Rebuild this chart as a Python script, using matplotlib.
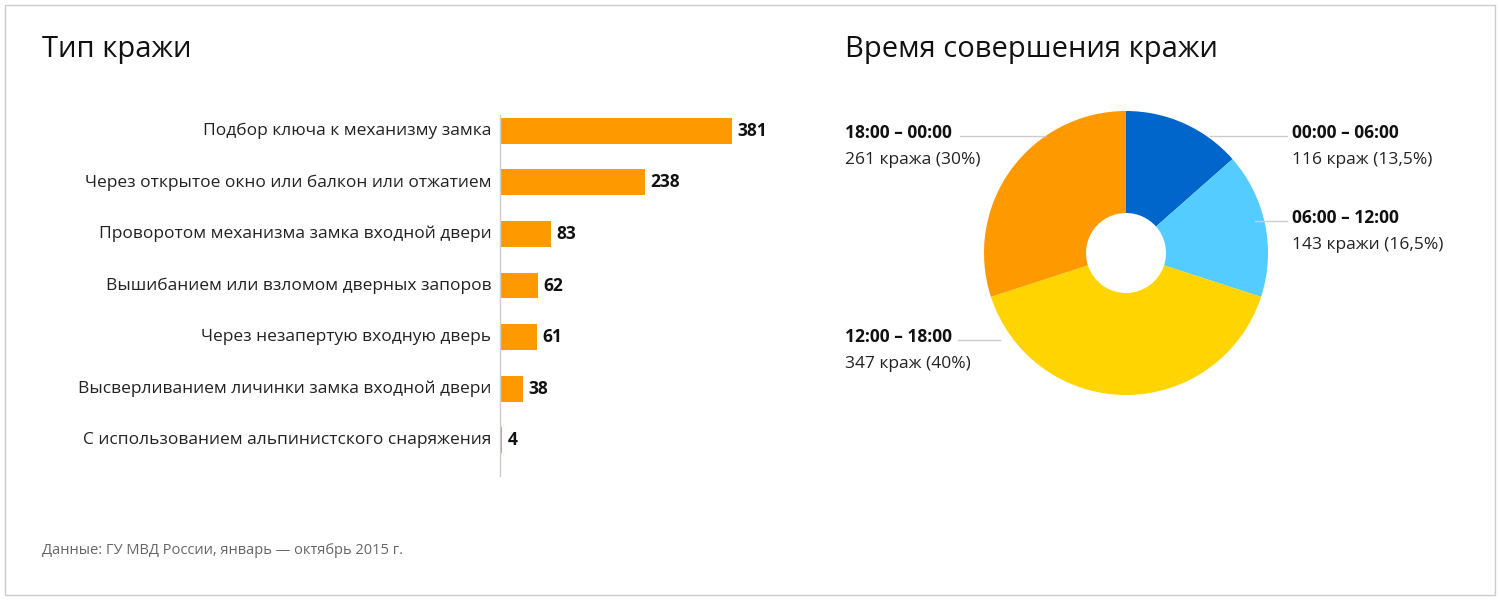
import matplotlib
matplotlib.use("Agg")
import matplotlib.pyplot as plt
from matplotlib.lines import Line2D
from matplotlib.patches import Rectangle

plt.rcParams["font.family"] = "Open Sans"

# bar data
methods = ["Подбор ключа к механизму замка",
           "Через открытое окно или балкон или отжатием",
           "Проворотом механизма замка входной двери",
           "Вышибанием или взломом дверных запоров",
           "Через незапертую входную дверь",
           "Высверливанием личинки замка входной двери",
           "С использованием альпинистского снаряжения"]
counts = [381, 238, 83, 62, 61, 38, 4]

# pie data
periods = ["00:00 – 06:00", "06:00 – 12:00", "12:00 – 18:00", "18:00 – 00:00"]
shares = [13.5, 16.5, 40, 30]
period_labels = ["116 краж (13,5%)", "143 кражи (16,5%)", "347 краж (40%)", "261 кража (30%)"]
pie_colors = ["#0066cc", "#55ccff", "#ffd400", "#ff9900"]

W, H = 1500, 600
fig = plt.figure(figsize=(15, 6), dpi=100)


def px(x, y):
    return x / W, 1 - y / H


fig.add_artist(Rectangle(px(5, 595), 1490 / W, 590 / H, transform=fig.transFigure,
                         fill=False, edgecolor="#cccccc", lw=1))

fig.text(*px(42, 50), "Тип кражи", fontsize=21, va="center", color="#111111")
fig.text(*px(845, 50), "Время совершения кражи", fontsize=21, va="center", color="#111111")
fig.text(*px(42, 550), "Данные: ГУ МВД России, январь — октябрь 2015 г.",
         fontsize=10.5, va="center", color="#666666")

# bars
top, bottom = 105, 466
ax = fig.add_axes([500 / W, 1 - bottom / H, 232 / W, (bottom - top) / H])
ypos = list(range(len(counts)))
ax.barh(ypos, counts, height=0.5, color="#ff9900")
ax.set_xlim(0, 381)
ax.set_ylim(len(counts) - 0.5, -0.5)
ax.axis("off")
ax.plot([0, 0], [-0.3, len(counts) - 0.3], color="#cccccc", lw=1, clip_on=False)
for y, (m, c) in enumerate(zip(methods, counts)):
    ax.text(-14, y, m, ha="right", va="center", fontsize=12.5, color="#222222")
    ax.text(c + 9, y, str(c), ha="left", va="center", fontsize=12.5,
            fontweight="bold", color="#111111")

# donut
R = 142
pax = fig.add_axes([(1126 - R) / W, 1 - (253 + R) / H, 2 * R / W, 2 * R / H])
pax.pie(shares, colors=pie_colors, startangle=90, counterclock=False,
        wedgeprops=dict(width=1 - 40 / 142, edgecolor="none"), radius=1)
pax.set_xlim(-1, 1)
pax.set_ylim(-1, 1)

# labels: (x, y, ha, line)
spots = [(1292, 133, "left", (1210, 1287, 136)),
         (1292, 218, "left", (1255, 1287, 221)),
         (845, 337, "left", (958, 1000, 340)),
         (845, 133, "left", (960, 1045, 136))]
for (x, y, ha, (x1, x2, ly)), p, lab in zip(spots, periods, period_labels):
    fig.text(*px(x, y), p, fontsize=12.5, fontweight="bold", ha=ha, va="center", color="#111111")
    fig.text(*px(x, y + 27), lab, fontsize=12.5, ha=ha, va="center", color="#222222")
    fig.add_artist(Line2D([x1 / W, x2 / W], [1 - ly / H] * 2, transform=fig.transFigure,
                          color="#cccccc", lw=1))

fig.savefig("out.png", dpi=100)
